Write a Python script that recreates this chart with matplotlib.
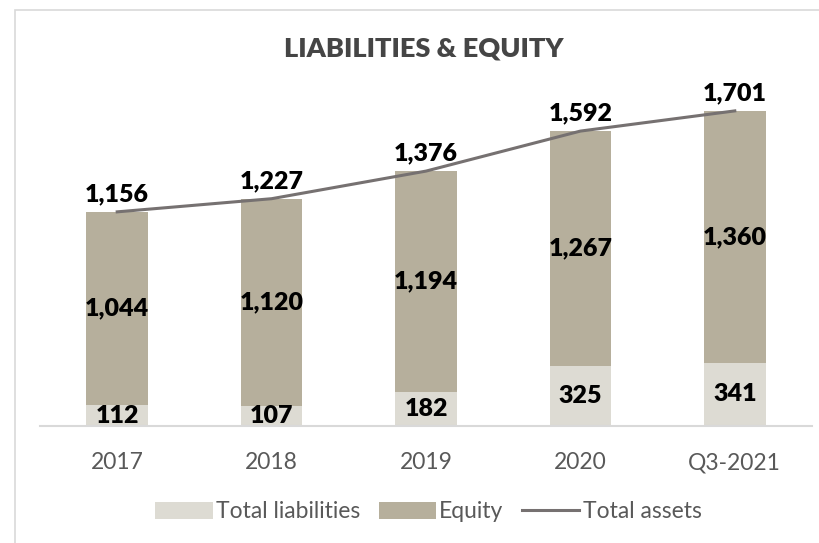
import matplotlib

matplotlib.use("Agg")
import matplotlib.pyplot as plt
from matplotlib.lines import Line2D
from matplotlib.patches import Patch, Rectangle

categories = ["2017", "2018", "2019", "2020", "Q3-2021"]
total_liabilities = [112, 107, 182, 325, 341]
equity = [1044, 1120, 1194, 1267, 1360]
total_assets = [1156, 1227, 1376, 1592, 1701]

LIAB_COLOR = "#dddbd3"
EQUITY_COLOR = "#b6af9c"
LINE_COLOR = "#767171"
TEXT_GRAY = "#595959"

plt.rcParams["font.family"] = ["Lato", "DejaVu Sans"]

W, H = 819, 543
fig = plt.figure(figsize=(W / 100, H / 100), dpi=100)
ax = fig.add_axes([40 / W, 117 / H, 772 / W, 370.5 / H])

x = list(range(len(categories)))
ax.bar(x, total_liabilities, width=0.4, color=LIAB_COLOR, zorder=2)
ax.bar(x, equity, width=0.4, bottom=total_liabilities, color=EQUITY_COLOR, zorder=2)
ax.plot(x, total_assets, color=LINE_COLOR, linewidth=2.2, zorder=3)

label_kw = dict(ha="center", va="center", fontsize=18, fontweight="heavy", color="black", zorder=4)
for i in x:
    ax.text(i, total_liabilities[i] / 2, f"{total_liabilities[i]:,}", **label_kw)
    ax.text(i, total_liabilities[i] + equity[i] / 2, f"{equity[i]:,}", **label_kw)
    ax.text(i, total_assets[i] + 95, f"{total_assets[i]:,}", **label_kw)

ax.set_xlim(-0.5, len(categories) - 0.5)
ax.set_ylim(0, 2000)
ax.set_xticks(x)
ax.set_xticklabels(categories, fontsize=16.5, color=TEXT_GRAY)
ax.tick_params(axis="x", length=0, pad=19)
ax.set_yticks([])
for side in ["top", "right", "left"]:
    ax.spines[side].set_visible(False)
ax.spines["bottom"].set_color("#d9d9d9")
ax.spines["bottom"].set_linewidth(1.5)
ax.patch.set_visible(False)

fig.text(0.518, 1 - 48 / H, "LIABILITIES & EQUITY", ha="center", va="center",
         fontsize=19.5, fontweight="heavy", color="#454545")

handles = [
    Patch(facecolor=LIAB_COLOR, label="Total liabilities"),
    Patch(facecolor=EQUITY_COLOR, label="Equity"),
    Line2D([0], [0], color=LINE_COLOR, linewidth=2.2, label="Total assets"),
]
leg = fig.legend(handles=handles, loc="center", bbox_to_anchor=(0.523, 1 - 512 / H),
                 ncol=3, frameon=False, fontsize=16.5, handlelength=2.5, handleheight=0.8,
                 handletextpad=0.15, columnspacing=0.8)
for t in leg.get_texts():
    t.set_color(TEXT_GRAY)

fig.patches.append(Rectangle((15 / W, -0.1), 1.2, 1.1 - 10 / H, transform=fig.transFigure,
                             fill=False, edgecolor="#d9d9d9", linewidth=1.2))

fig.savefig("out.png", dpi=100)
